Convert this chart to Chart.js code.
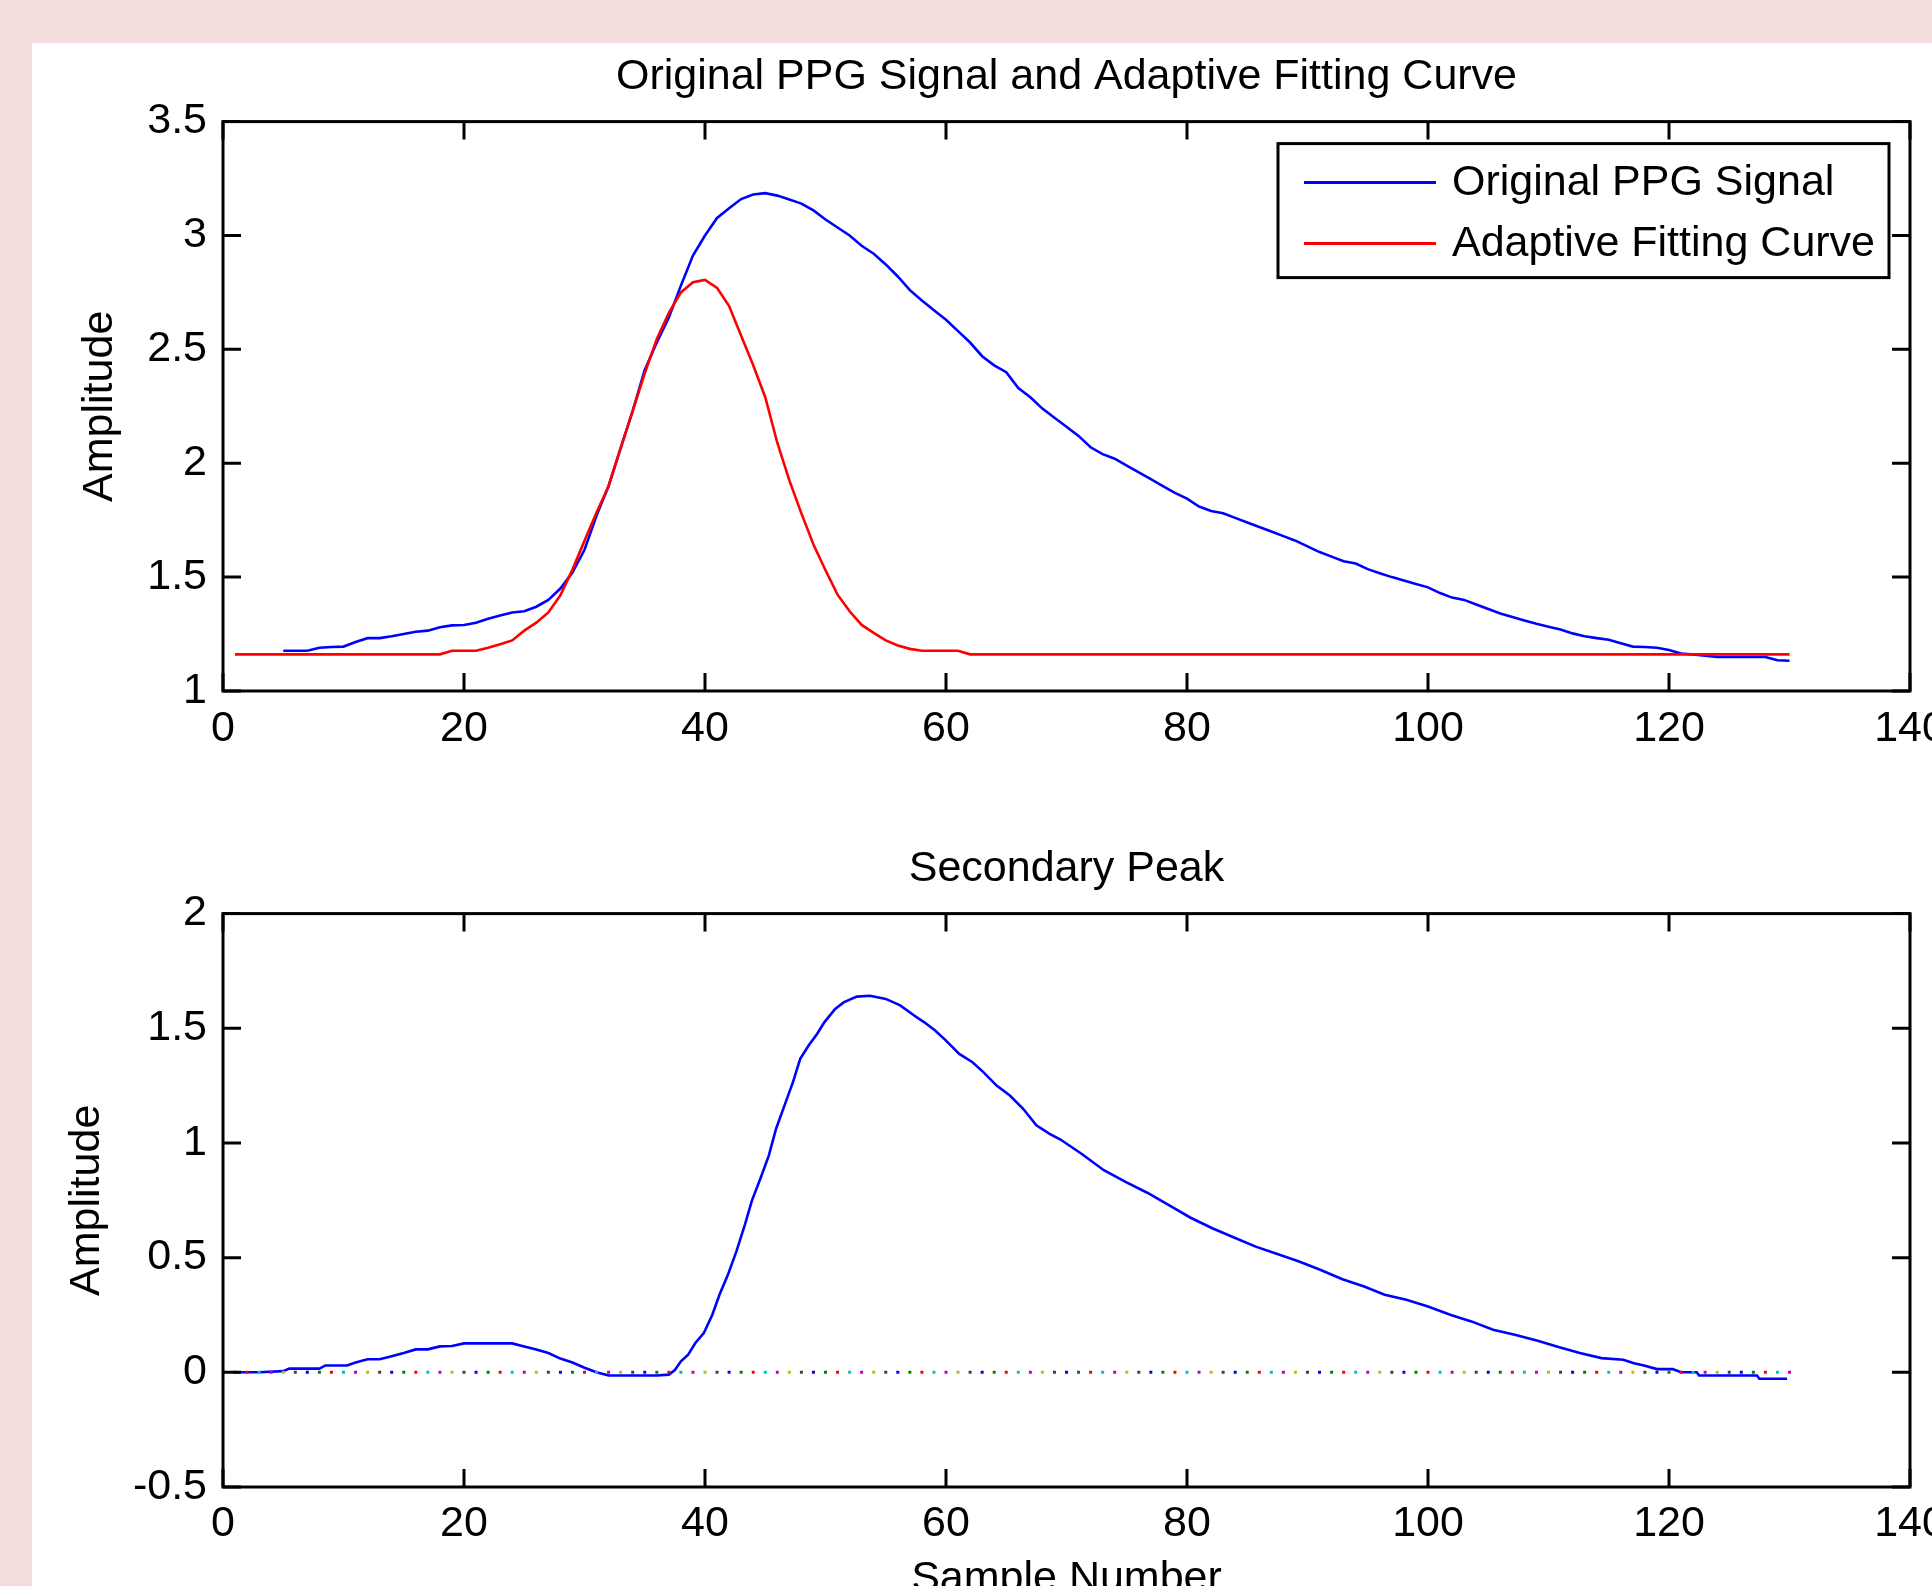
<!DOCTYPE html>
<html>
<head>
<meta charset="utf-8">
<script src="https://cdn.jsdelivr.net/npm/chart.js@4/dist/chart.umd.min.js"></script>
<style>
html,body{margin:0;padding:0;overflow:hidden;background:#f2dcdc;}
#stage{position:relative;width:1932px;height:1586px;overflow:hidden;background:#f2dcdc;}
#panel{position:absolute;left:32px;top:43px;right:0;bottom:0;background:#ffffff;}
#c1{position:absolute;left:0;top:0;}
#c2{position:absolute;left:0;top:800px;}
</style>
</head>
<body>
<div id="stage">
  <div id="panel"></div>
  <canvas id="c1" width="1932" height="800"></canvas>
  <canvas id="c2" width="1932" height="850"></canvas>
</div>
<script>
// ---------------- DATA ----------------
const topTitle = 'Original PPG Signal and Adaptive Fitting Curve';
const bottomTitle = 'Secondary Peak';
const yAxisLabel = 'Amplitude';
const xAxisLabel = 'Sample Number';
const seriesNames = ['Original PPG Signal', 'Adaptive Fitting Curve'];

const xTicks = [0, 20, 40, 60, 80, 100, 120, 140];
const xTickLabels = ['0', '20', '40', '60', '80', '100', '120', '140'];
const yTicksTop = [1, 1.5, 2, 2.5, 3, 3.5];
const yTickLabelsTop = ['1', '1.5', '2', '2.5', '3', '3.5'];
const yTicksBottom = [-0.5, 0, 0.5, 1, 1.5, 2];
const yTickLabelsBottom = ['-0.5', '0', '0.5', '1', '1.5', '2'];

// Original PPG signal (top, blue)
const ppgX = [5,6,7,8,9,10,11,12,13,14,15,16,17,18,19,20,21,22,23,24,25,26,27,28,29,30,
  31,32,33,34,35,36,37,38,39,40,41,42,43,44,45,46,47,48,49,50,51,52,53,54,55,56,57,58,59,60,
  61,62,63,64,65,66,67,68,69,70,71,72,73,74,75,76,77,78,79,80,81,82,83,84,85,86,87,88,89,90,
  91,92,93,94,95,96,97,98,99,100,101,102,103,104,105,106,107,108,109,110,111,112,113,114,115,
  116,117,118,119,120,121,122,123,124,125,126,127,128,129,130];
const ppgY = [1.177,1.177,1.177,1.190,1.193,1.195,1.215,1.232,1.232,1.240,1.250,1.260,1.265,1.280,1.288,1.290,
  1.300,1.317,1.332,1.345,1.350,1.370,1.400,1.450,1.520,1.620,
  1.770,1.900,2.066,2.230,2.410,2.530,2.640,2.780,2.912,3.000,3.077,3.120,3.160,3.180,3.186,3.175,3.158,3.140,3.110,3.070,
  3.035,3.000,2.955,2.920,2.873,2.820,2.760,2.715,2.672,2.630,
  2.580,2.530,2.470,2.430,2.400,2.330,2.290,2.240,2.200,2.160,2.120,2.070,2.040,2.020,1.990,1.960,1.930,1.900,1.870,1.845,
  1.810,1.790,1.780,1.760,1.740,1.720,1.700,1.680,1.660,1.635,
  1.610,1.590,1.570,1.560,1.535,1.517,1.500,1.485,1.470,1.455,1.430,1.410,1.400,1.380,1.360,1.340,1.325,1.310,1.295,1.282,
  1.270,1.253,1.240,1.232,1.225,1.210,1.195,1.193,1.190,1.180,1.165,1.160,1.155,1.149,1.149,1.149,1.149,1.149,1.135,1.133];

// Adaptive fitting curve (top, red)
const fitX = [1,18,19,21,22,23,24,25,26,27,28,29,30,31,32,33,34,35,36,37,38,39,40,41,42,43,44,45,46,47,48,49,50,
  51,52,53,54,55,56,57,58,61,62,130];
const fitY = [1.161,1.161,1.177,1.177,1.190,1.205,1.222,1.265,1.300,1.345,1.420,1.533,1.660,1.784,1.900,2.066,2.230,
  2.395,2.545,2.660,2.750,2.795,2.805,2.770,2.690,2.560,2.430,2.290,2.090,1.925,1.780,1.643,1.530,
  1.423,1.350,1.290,1.255,1.222,1.200,1.185,1.177,1.177,1.161,1.161];

// Secondary peak (bottom, blue)
const peakX = [1,3,5,5.5,8,8.5,10.3,11,12,13,14,15,16,17,18,19,20,22,24,25,26,27,28,29,30,31,32,34,36,37,37.5,
  38,38.6,39.2,39.9,40.6,41.2,41.9,42.6,43.3,43.9,44.6,45.3,45.9,46.6,47.3,47.9,48.6,49.3,49.9,50.8,51.5,52.6,53.7,
  55,56.2,57.3,58.2,59.1,60,61.1,62.2,63.1,64.2,65.3,66.4,67.5,68.6,69.5,71.3,73.1,74.9,76.7,78.5,80.3,82.1,83.9,
  85.7,87.5,89.3,91.1,92.9,94.7,96.4,98.2,100,101.9,103.6,105.4,107.2,109.1,110.9,112.6,114.4,116.2,117.1,118,119,
  120.3,121,122.3,122.5,127.3,127.5,129.8];
const peakY = [0,0,0.005,0.016,0.016,0.030,0.030,0.043,0.057,0.057,0.070,0.084,0.100,0.100,0.113,0.115,0.126,0.126,
  0.126,0.113,0.100,0.084,0.060,0.043,0.020,0,-0.014,-0.014,-0.014,-0.010,0.010,
  0.048,0.077,0.128,0.171,0.250,0.338,0.425,0.526,0.642,0.750,0.845,0.946,1.062,1.164,1.265,1.367,1.425,1.475,1.526,
  1.584,1.613,1.638,1.642,1.628,1.600,1.558,1.526,1.490,1.446,1.388,1.352,1.309,1.250,1.207,1.149,1.077,1.040,1.015,
  0.951,0.881,0.830,0.783,0.729,0.674,0.628,0.588,0.548,0.516,0.483,0.446,0.406,0.374,0.338,0.316,0.287,0.250,0.222,
  0.186,0.164,0.138,0.109,0.084,0.062,0.055,0.040,0.029,0.014,0.014,0,0,-0.014,-0.014,-0.028,-0.028];

// Dotted zero reference (bottom)
const zeroX = [0,1,2,3,4,5,6,7,8,9,10,11,12,13,14,15,16,17,18,19,20,21,22,23,24,25,26,27,28,29,30,31,32,33,34,35,
  36,37,38,39,40,41,42,43,44,45,46,47,48,49,50,51,52,53,54,55,56,57,58,59,60,61,62,63,64,65,66,67,68,69,70,71,72,
  73,74,75,76,77,78,79,80,81,82,83,84,85,86,87,88,89,90,91,92,93,94,95,96,97,98,99,100,101,102,103,104,105,106,107,
  108,109,110,111,112,113,114,115,116,117,118,119,120,121,122,123,124,125,126,127,128,129,130];
const zeroY = zeroX.map(() => 0);

// ---------------- STYLE ----------------
const FONT = "'Liberation Sans', Arial, Helvetica, sans-serif";
const FS = 43;
const matlabOrder = ['#0000ff', '#008000', '#ff0000', '#00bfbf', '#bf00bf', '#bfbf00', '#404040'];

Chart.defaults.font.family = FONT;
Chart.defaults.font.size = FS;
Chart.defaults.color = '#000';

const pts = (xs, ys) => xs.map((x, i) => ({x: x, y: ys[i]}));

const boxPlugin = {
  id: 'matlabBox',
  afterDraw(chart, args, opts) {
    const {ctx, chartArea: a, scales} = chart;
    ctx.save();
    ctx.strokeStyle = '#000';
    ctx.lineWidth = 3;
    ctx.beginPath();
    scales.x.ticks.forEach(t => {
      const px = scales.x.getPixelForValue(t.value);
      ctx.moveTo(px, a.bottom); ctx.lineTo(px, a.bottom - 18);
      ctx.moveTo(px, a.top); ctx.lineTo(px, a.top + 18);
    });
    scales.y.ticks.forEach(t => {
      const py = scales.y.getPixelForValue(t.value);
      ctx.moveTo(a.left, py); ctx.lineTo(a.left + 18, py);
      ctx.moveTo(a.right, py); ctx.lineTo(a.right - 18, py);
    });
    ctx.stroke();
    ctx.strokeRect(a.left, a.top, a.right - a.left, a.bottom - a.top);

    if (opts && opts.legend) {
      const w = 611, h = 134;
      const bx = a.right - 21 - w, by = a.top + 22;
      ctx.fillStyle = '#fff';
      ctx.fillRect(bx, by, w, h);
      ctx.lineWidth = 3;
      ctx.strokeRect(bx, by, w, h);
      const rows = [39, 100];
      opts.legend.forEach((item, i) => {
        const y = by + rows[i];
        ctx.strokeStyle = item.color;
        ctx.lineWidth = 3;
        ctx.beginPath();
        ctx.moveTo(bx + 26, y); ctx.lineTo(bx + 158, y);
        ctx.stroke();
        ctx.fillStyle = '#000';
        ctx.font = FS + 'px ' + FONT;
        ctx.textBaseline = 'middle';
        ctx.textAlign = 'left';
        ctx.fillText(item.label, bx + 174, y + 1);
      });
    }
    ctx.restore();
  }
};

function makeOptions(cfg) {
  return {
    responsive: false,
    animation: false,
    layout: {padding: {left: 0, right: 22, top: 0, bottom: 0}},
    plugins: {
      legend: {display: false},
      tooltip: {enabled: false},
      title: {
        display: true, text: cfg.title, fullSize: false,
        font: {size: FS, weight: 'normal', family: FONT, lineHeight: 1.2},
        color: '#000',
        padding: {top: cfg.titleTop, bottom: cfg.titleBottom}
      },
      matlabBox: {legend: cfg.legend || null}
    },
    scales: {
      x: {
        type: 'linear', min: 0, max: 140,
        afterBuildTicks: s => { s.ticks = xTicks.map(v => ({value: v})); },
        afterFit: s => { s.height = cfg.xAxisH; s.paddingLeft = 0; s.paddingRight = 0; },
        grid: {display: false, drawTicks: false},
        border: {display: false},
        ticks: {padding: cfg.xTickPad, maxRotation: 0, autoSkip: false, color: '#000',
          font: {size: FS, lineHeight: 1.2},
          callback: (v) => xTickLabels[xTicks.indexOf(v)]},
        title: cfg.xTitle ? {display: true, text: cfg.xTitle, color: '#000',
          font: {size: FS, lineHeight: 1.2}, padding: {top: 0, bottom: cfg.xTitlePad}} : {display: false}
      },
      y: {
        type: 'linear', min: cfg.yMin, max: cfg.yMax,
        afterBuildTicks: s => { s.ticks = cfg.yTicks.map(v => ({value: v})); },
        afterFit: s => { s.width = 223; s.paddingTop = 0; s.paddingBottom = 0; },
        grid: {display: false, drawTicks: false},
        border: {display: false},
        ticks: {padding: 16, autoSkip: false, color: '#000', font: {size: FS, lineHeight: 1.2},
          callback: (v) => cfg.yLabels[cfg.yTicks.indexOf(v)]},
        title: {display: true, text: yAxisLabel, color: '#000',
          font: {size: FS, lineHeight: 1.2}, padding: {top: cfg.yTitlePad, bottom: 0}}
      }
    }
  };
}

new Chart(document.getElementById('c1'), {
  type: 'line',
  data: {
    datasets: [
      {label: seriesNames[0], data: pts(ppgX, ppgY), borderColor: '#0000ff', borderWidth: 2.6,
       pointRadius: 0, tension: 0, fill: false, order: 2},
      {label: seriesNames[1], data: pts(fitX, fitY), borderColor: '#ff0000', borderWidth: 2.6,
       pointRadius: 0, tension: 0, fill: false, order: 1}
    ]
  },
  options: makeOptions({
    title: topTitle, titleTop: 51, titleBottom: 19,
    yMin: 1, yMax: 3.5, yTicks: yTicksTop, yLabels: yTickLabelsTop, yTitlePad: 74,
    xAxisH: 109, xTickPad: 12,
    legend: [{label: seriesNames[0], color: '#0000ff'}, {label: seriesNames[1], color: '#ff0000'}]
  }),
  plugins: [boxPlugin]
});

new Chart(document.getElementById('c2'), {
  type: 'line',
  data: {
    datasets: [
      {label: 'zero', data: pts(zeroX, zeroY), showLine: false, pointStyle: 'rect', pointRadius: 2.1,
       pointBorderWidth: 0, pointBackgroundColor: c => matlabOrder[c.dataIndex % matlabOrder.length]},
      {label: bottomTitle, data: pts(peakX, peakY), borderColor: '#0000ff', borderWidth: 2.6,
       pointRadius: 0, tension: 0, fill: false}
    ]
  },
  options: makeOptions({
    title: bottomTitle, titleTop: 43, titleBottom: 19,
    yMin: -0.5, yMax: 2, yTicks: yTicksBottom, yLabels: yTickLabelsBottom, yTitlePad: 61,
    xAxisH: 163, xTickPad: 11, xTitle: xAxisLabel, xTitlePad: 45
  }),
  plugins: [boxPlugin]
});
</script>
</body>
</html>
